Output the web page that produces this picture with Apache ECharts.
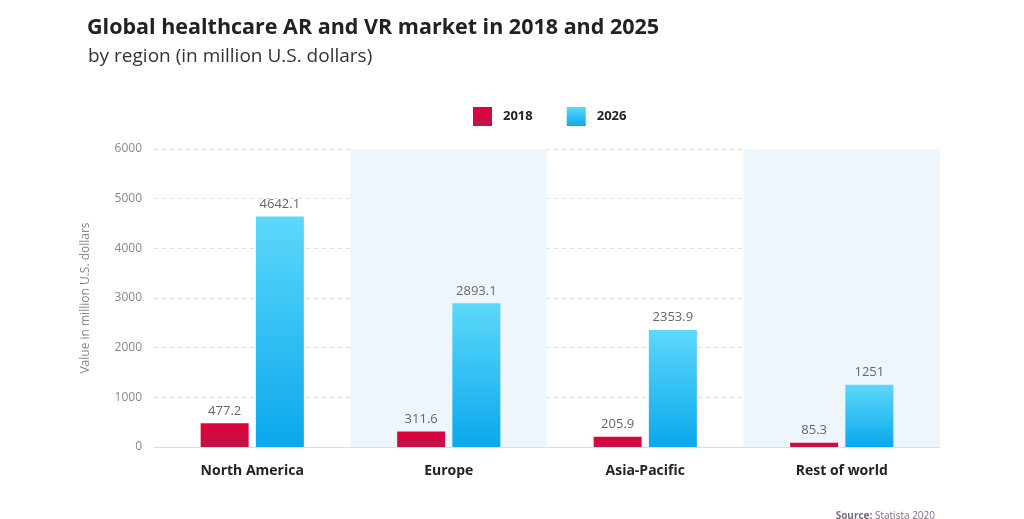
<!DOCTYPE html>
<html><head><meta charset="utf-8">
<script src="https://cdn.jsdelivr.net/npm/echarts@6/dist/echarts.min.js"></script>
<style>html,body{margin:0;padding:0;background:#fff}#c{width:1024px;height:519px}</style>
</head><body><div id="c"></div>
<script>
const categories = ['North America', 'Europe', 'Asia-Pacific', 'Rest of world'];
const values2018 = [477.2, 311.6, 205.9, 85.3];
const values2026 = [4642.1, 2893.1, 2353.9, 1251];
const seriesNames = ['2018', '2026'];

const chart = echarts.init(document.getElementById('c'));
const font = '"Open Sans", "Noto Sans", sans-serif';
const grad = (a, b) => new echarts.graphic.LinearGradient(0, 0, 0, 1, [{offset: 0, color: a}, {offset: 1, color: b}]);
chart.setOption({
  animation: false,
  textStyle: {fontFamily: font},
  title: [
    {text: 'Global healthcare AR and VR market in 2018 and 2025', left: 82, top: 12,
     textStyle: {fontSize: 21.5, fontWeight: 'bold', color: '#222', fontFamily: font}},
    {text: 'by region (in million U.S. dollars)', left: 83, top: 42,
     textStyle: {fontSize: 19, fontWeight: 'normal', color: '#333', fontFamily: font}},
    {text: '{b|Source:} Statista 2020', right: 84, top: 506,
     textStyle: {fontSize: 10, fontWeight: 'normal', color: '#7a6a80', fontFamily: font,
       rich: {b: {fontWeight: 'bold', fontSize: 10, color: '#7a6a80', fontFamily: font}}}}
  ],
  legend: {
    top: 102, left: 468, itemWidth: 19, itemHeight: 19, itemGap: 34, icon: 'rect',
    textStyle: {fontSize: 13, color: '#222', fontWeight: 'bold', padding: [0, 0, 0, 6]},
    data: seriesNames
  },
  grid: {left: 154, right: 84, top: 149, bottom: 72},
  xAxis: {
    type: 'category', data: categories,
    axisLine: {lineStyle: {color: '#ddd'}}, axisTick: {show: false},
    axisLabel: {fontSize: 14, color: '#222', fontWeight: 'bold', margin: 17},
    splitArea: {show: true, areaStyle: {color: ['rgba(255,255,255,0)', '#eef6fc']}}
  },
  yAxis: {
    type: 'value', min: 0, max: 6000, interval: 1000,
    name: 'Value in million U.S. dollars', nameLocation: 'middle', nameGap: 62,
    nameTextStyle: {fontSize: 12, color: '#888'},
    axisLine: {show: false}, axisTick: {show: false},
    axisLabel: {fontSize: 12, color: '#888', margin: 12, formatter: v => String(v)},
    splitLine: {lineStyle: {color: '#ddd', type: [4, 4]}}
  },
  series: [
    {name: seriesNames[0], type: 'bar', data: values2018, barWidth: 48, barGap: '15%',
     itemStyle: {color: grad('#e0003a', '#c0144a')},
     label: {show: true, position: 'top', fontSize: 13, color: '#666', distance: 6}},
    {name: seriesNames[1], type: 'bar', data: values2026, barWidth: 48,
     itemStyle: {color: grad('#5dd8fa', '#0aa8ec')},
     label: {show: true, position: 'top', fontSize: 13, color: '#666', distance: 6}}
  ]
});
</script></body></html>
